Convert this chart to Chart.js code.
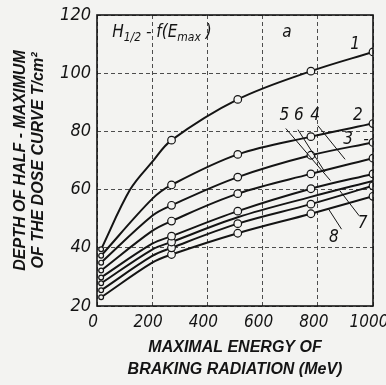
<!DOCTYPE html>
<html lang="en">
<head>
    <meta charset="UTF-8">
    <title>Depth of half-maximum</title>
    <style>
        body { margin: 0; background: #f3f3f1; }
        #chart { display: block; }
    </style>
</head>
<body>
    <canvas id="chart" width="386" height="385"></canvas>
    <script src="https://cdn.jsdelivr.net/npm/chart.js@4.4.1/dist/chart.umd.min.js"></script>
    <script>
        // energies (MeV); null = not read for that curve
        const energy = [15, 120, 200, 270, 510, 775, 1000]
        const curve1 = [39.5, 60, 69.5, 77, 91, 100.7, 107.3]
        const curve2 = [37.3, null, 56.8, 61.6, 72.1, 78.2, 82.7]
        const curve3 = [34.9, null, 51.0, 54.6, 64.3, 71.8, 76.2]
        const curve4 = [32.2, null, 45.8, 49.2, 58.6, 65.4, 70.8]
        const curve5 = [29.8, null, 41.4, 44.0, 52.6, 60.3, 65.4]
        const curve6 = [27.8, null, 39.4, 42.0, 50.5, 57.5, 63.0]
        const curve7 = [25.4, null, 37.2, 40.0, 48.3, 55.0, 61.3]
        const curve8 = [23.0, null, 34.9, 37.7, 45.0, 51.7, 57.7]
        const curves = [curve1, curve2, curve3, curve4, curve5, curve6, curve7, curve8]
        // energies where a measured point (circle) is drawn
        const circled = [15, 270, 510, 775, 1000]
        const circledCurve6 = [15, 270]
        const xTicks = [0, 200, 400, 600, 800, 1000]
        const yTicks = [20, 40, 60, 80, 100, 120]

        const ink = '#141414'
        const paper = '#f3f3f1'
        const hand = '"Liberation Sans Narrow", "DejaVu Sans Condensed", sans-serif'

        const datasets = curves.map((vals, i) => {
            const marks = i === 5 ? circledCurve6 : circled
            return {
                label: String(i + 1),
                data: energy.map((e, j) => ({x: e, y: vals[j]})).filter(p => p.y !== null),
                borderColor: ink,
                borderWidth: 2,
                tension: 0.35,
                pointBackgroundColor: paper,
                pointBorderColor: ink,
                pointBorderWidth: 1.2,
                pointRadius: c => marks.includes(c.raw.x) ? (c.raw.x < 50 ? 2.4 : 3.8) : 0,
                pointHoverRadius: 0
            }
        })

        const notes = {
            id: 'notes',
            afterDatasetsDraw(chart){
                const {ctx, chartArea: a, scales: {x, y}} = chart
                const px = v => x.getPixelForValue(v)
                const py = v => y.getPixelForValue(v)
                ctx.save()
                // frame
                ctx.strokeStyle = ink
                ctx.lineWidth = 1.6
                ctx.strokeRect(a.left, a.top, a.right - a.left, a.bottom - a.top)
                ctx.fillStyle = ink
                ctx.textBaseline = 'middle'
                ctx.textAlign = 'center'
                // curve numbers
                ctx.font = 'italic 17px ' + hand
                const tags = [['1', 935, 110], ['2', 945, 85.5], ['3', 910, 77.3], ['4', 790, 85.5],
                              ['5 6', 705, 85.5], ['7', 962, 48.3], ['8', 858, 43.4], ['a', 688, 113.8]]
                tags.forEach(t => ctx.fillText(t[0], px(t[1]), py(t[2])))
                ctx.fillText('-', px(975), py(77.3))
                // leader lines
                ctx.lineWidth = 1
                const leads = [[800, 82, 899, 70.4], [684, 81, 846, 63.1], [728, 80.6, 826, 66],
                               [880, 59.6, 950, 51], [837, 53.6, 886, 46.4]]
                leads.forEach(l => {
                    ctx.beginPath()
                    ctx.moveTo(px(l[0]), py(l[1]))
                    ctx.lineTo(px(l[2]), py(l[3]))
                    ctx.stroke()
                })
                // H1/2 = f(Emax)
                ctx.textAlign = 'left'
                let cx = px(55)
                const cy = py(113.8)
                const put = (s, size, dy) => {
                    ctx.font = 'italic ' + size + 'px ' + hand
                    ctx.fillText(s, cx, cy + dy)
                    cx += ctx.measureText(s).width
                }
                put('H', 17, 0)
                put('1/2', 12, 5)
                put(' - f(E', 17, 0)
                put('max', 12, 5)
                put(' )', 17, 0)
                ctx.restore()
            }
        }

        new Chart(document.getElementById('chart'), {
            type: 'line',
            data: {datasets},
            plugins: [notes],
            options: {
                responsive: false,
                animation: false,
                events: [],
                layout: {padding: {top: 15, right: 13, left: 0, bottom: 0}},
                plugins: {legend: {display: false}, tooltip: {enabled: false}},
                scales: {
                    x: {
                        type: 'linear',
                        min: 0,
                        max: 1000,
                        afterBuildTicks: s => { s.ticks = xTicks.map(v => ({value: v})) },
                        afterFit: s => { s.height = 79; s.paddingLeft = 0; s.paddingRight = 0 },
                        grid: {color: '#3a3a3a', lineWidth: 0.9, drawTicks: false},
                        border: {display: false, dash: [4, 3]},
                        ticks: {
                            color: ink, padding: 6, maxRotation: 0, labelOffset: -4,
                            callback: v => String(v),
                            font: {family: hand, size: 17, style: 'italic'}
                        },
                        title: {
                            display: true,
                            text: ['MAXIMAL ENERGY OF', 'BRAKING RADIATION (MeV)'],
                            color: ink,
                            padding: {top: 0, bottom: 4},
                            font: {family: '"Liberation Sans", sans-serif', size: 16, style: 'italic', weight: 'bold', lineHeight: 1.4}
                        }
                    },
                    y: {
                        min: 20,
                        max: 120,
                        afterBuildTicks: s => { s.ticks = yTicks.map(v => ({value: v})) },
                        afterFit: s => { s.width = 97; s.paddingTop = 0; s.paddingBottom = 0 },
                        grid: {color: '#3a3a3a', lineWidth: 0.9, drawTicks: false},
                        border: {display: false, dash: [4, 3]},
                        ticks: {
                            color: ink, padding: 6,
                            callback: v => String(v),
                            font: {family: hand, size: 18, style: 'italic'}
                        },
                        title: {
                            display: true,
                            text: ['DEPTH OF HALF - MAXIMUM', 'OF THE DOSE CURVE T/cm²'],
                            color: ink,
                            padding: {top: 12, bottom: 0},
                            font: {family: '"Liberation Sans", sans-serif', size: 16, style: 'italic', weight: 'bold', lineHeight: 1.1}
                        }
                    }
                }
            }
        })
    </script>
</body>
</html>
